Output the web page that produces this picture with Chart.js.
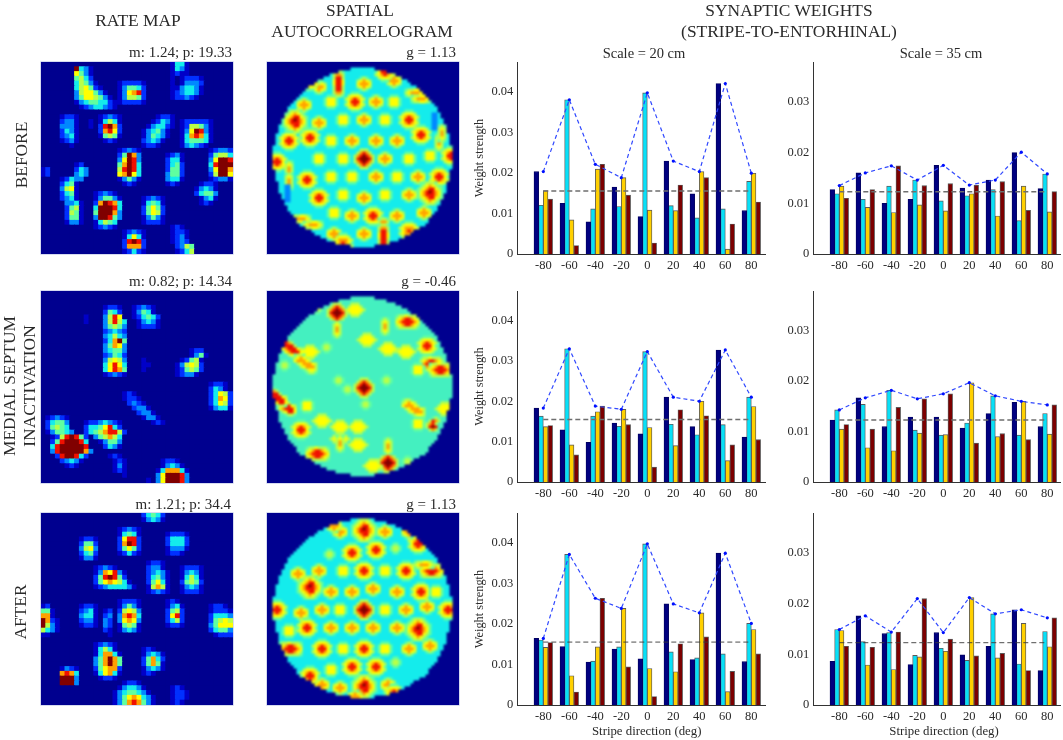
<!DOCTYPE html>
<html><head><meta charset="utf-8">
<script src="https://cdn.jsdelivr.net/npm/chart.js@4"></script>
<style>
html,body{margin:0;padding:0;background:#fff;width:1063px;height:740px;overflow:hidden}
#stage{position:absolute;left:0;top:0;width:1063px;height:740px;font-family:"Liberation Serif",serif;color:#2a2a2a;filter:blur(.3px)}
.t{position:absolute;white-space:nowrap;line-height:1}
.c{transform:translateX(-50%)}
.r{transform:translate(-100%,0)}
.rot{transform:translate(-50%,-50%) rotate(-90deg)}
.panel{position:absolute;width:192px;height:192px;overflow:hidden;background:#00008f;box-shadow:0 0 0 .6px #b9c2e6}
.panel canvas{position:absolute;left:0;top:0}
.bars{position:absolute}
</style></head><body><div id="stage"></div>
<script>
// ---------- categories and colours ----------
const directions=[-80,-60,-40,-20,0,20,40,60,80];
const yTicks20=[0,0.01,0.02,0.03,0.04];
const yTicks35=[0,0.01,0.02,0.03];
const meanLine20=0.0155, meanLine35=0.0123;
const jet={'.':'#00008f','1':'#0000c8','2':'#0030ff','3':'#0088ff','4':'#14ecec','m':'#44f0c0','5':'#60ffa0','6':'#b8ff48','7':'#ffff00','8':'#ffa000','9':'#f01000','A':'#800000'};

// ---------- bar values: scale 20 cm ----------
const s20BeforeNavy=[.0203,.0125,.0079,.0165,.0092,.0229,.0148,.042,.0107];
const s20BeforeCyan=[.012,.038,.0111,.0117,.0397,.0119,.0089,.0111,.0179];
const s20BeforeGold=[.0156,.0084,.0209,.0188,.0108,.0107,.0203,.0012,.0199];
const s20BeforeRed=[.0135,.0021,.0221,.0145,.0027,.017,.0188,.0074,.0128];
const s20BeforeMax=[.0203,.038,.0221,.0188,.0397,.0229,.0203,.042,.0199];
const s20MsiNavy=[.0183,.0129,.0098,.0146,.0119,.021,.0137,.0327,.0111];
const s20MsiCyan=[.0163,.033,.0163,.0138,.0323,.0143,.0117,.0142,.021];
const s20MsiGold=[.0137,.0092,.0174,.018,.0135,.009,.02,.0053,.0187];
const s20MsiRed=[.014,.0067,.0188,.0142,.0037,.0179,.0164,.0092,.0105];
const s20MsiMax=[.0183,.033,.0188,.018,.0323,.021,.02,.0327,.021];
const s20AfterNavy=[.0164,.0144,.0106,.0138,.0114,.0249,.0112,.0374,.0107];
const s20AfterCyan=[.016,.0371,.0108,.0143,.0397,.0131,.0116,.0126,.0201];
const s20AfterGold=[.0142,.0072,.0143,.0238,.009,.0082,.0227,.0033,.0186];
const s20AfterRed=[.0154,.0032,.0263,.0094,.0021,.0151,.0168,.0083,.0126];
const s20AfterMax=[.0164,.0371,.0263,.0238,.0397,.0249,.0227,.0374,.0201];
// ---------- bar values: scale 35 cm ----------
const s35BeforeNavy=[.0127,.016,.01,.0108,.0175,.013,.0146,.02,.0129];
const s35BeforeCyan=[.0119,.0108,.0134,.0146,.0105,.0115,.0127,.0066,.0158];
const s35BeforeGold=[.0134,.0092,.0082,.0097,.0085,.0119,.0075,.0134,.0083];
const s35BeforeRed=[.011,.0127,.0174,.0135,.0139,.0136,.0143,.0086,.0123];
const s35BeforeMax=[.0135,.016,.0174,.0146,.0175,.0136,.0146,.0201,.0158];
const s35MsiNavy=[.0123,.0167,.011,.0129,.0129,.0107,.0136,.0158,.011];
const s35MsiCyan=[.0143,.0154,.0182,.0103,.0093,.0117,.0171,.0093,.0136];
const s35MsiGold=[.0105,.0068,.0062,.0097,.0094,.0197,.009,.016,.0095];
const s35MsiRed=[.0114,.0105,.0148,.0165,.0175,.0077,.0096,.0084,.0153];
const s35MsiMax=[.0143,.0167,.0182,.0165,.0175,.0197,.0171,.016,.0153];
const s35AfterNavy=[.0086,.0176,.0141,.008,.0143,.0099,.0116,.0188,.0068];
const s35AfterCyan=[.0149,.0125,.0143,.0098,.0112,.0088,.018,.0081,.0145];
const s35AfterGold=[.0147,.0079,.007,.0095,.0106,.0212,.0093,.0161,.0115];
const s35AfterRed=[.0116,.0114,.0144,.021,.013,.0097,.0102,.0068,.0172];
const s35AfterMax=[.0149,.0176,.0144,.021,.0143,.0212,.018,.0188,.0172];

// ---------- rate maps: 40 rows of 40 colour levels ('.' = lowest) ----------
const rateBefore=[
"...........................1441",
".......A431................1431",
".......7531................1211",
".......5642................1.12221",
".......46531....122221.....1.13332",
".......467521...135542.....1134431",
".......3677531..137892.....1234431",
".......35776531.136652.....122321",
".......134554421122221",
"........12344321",
"",
"....1221....12321.......1221",
"....2331..1.14641......12431.1222221",
"....3331..1.29A82.....134421.1266531",
"....2431....28972....134531..137A931",
"....2341....15651....135431..1489841",
"....1231.....121.....23431...1455541",
"......1..............1221....134321",
"................12321..............12332",
"................25A83.....1231.....25664",
"................37A93.....2441.....37AA9",
".......12.......58A94.....2452.....49AAA",
"12.....243......69A94.....2552.....37AA8",
"12.....343......78A74.....3552.....26AA7",
"....12433.......13531.....3441.....12331",
"....2451.........121......121....1221",
"....3671........................13431",
"....2451...12321................24553",
"....2341...135531....12321.......1341",
".....3341..28A984....14541.......121",
".....2561..4AAA94....25752",
".....2651..5AAA83....25762",
".....2551..3AA953....13531",
".....1331..14654.....12221",
"...........12321...........121",
".................12321.....1221",
".................14741.....1231",
".................29A92.....1232",
".................28882......2365",
".................12421......1246"];
const rateMsi=[
"","","",
".............1221..12321",
".............2542..13541",
".........1...3697..124542",
".........1...36964..13431",
".............35653..12221",
".............23432",
".............34643",
".............248A5",
".............35873",
".............34553.............122",
".............23542.............1351",
".............36763...1.......12561",
".............47974...11.....136762",
".............47985...1......125652",
".............12321..........12331",
"",
"...................................1221",
"...................................2431",
".................121...............24762",
".................1221..............24872",
"..................2321.............24762",
"...................2331............13441",
"....................2331",
".12321...............1331",
".24553...12234321......121",
".25654...24457942",
".135543..245689962",
"..1269A952.356864",
"..259AAA94..13553",
"..49AAAAA9...2431",
"..39AAAAA83",
"...29AA942....121",
"....23431......121.......1221",
".....121.......131.......13431",
"...............121......1488841",
".................1......37AAA93",
"......................1.37AAA93"];
const rateAfter=[
".....................24542",
".....................13431",
"",
"................12321",
"................14541.....12221",
"........1221....27992.....24442",
"........2552....28A92.....24442",
"........3673....25752.....13331",
"........2452....12421.....1221",
"........1331",
"......................1221",
"...........12321......2331...12221",
"...........1387931....23431..13431",
"...........259A952....24531..14641",
"...........25787641...25741..25652",
"...........123444431..16861..13431",
"......................12321..12221",
"",
"................12221.....121",
"12......1221....13531.....1341.....1221",
"551.....2341.12.26763.....2562.....12221",
"881.....3441.23.38984.....2792.....24443",
"A821....2331.32.37873.....2462.....25676",
"A631....1221.32.15651.....1221.....35777",
"6431.........21.13431..............24553",
"11............1.....................12221",
"",
"...........12321",
"...........14641.....121",
"...........148841....13431",
"...........358A85....25842",
"...........358A85....25851",
"....1321...257882....13431",
"....8984...147841....121",
"....AAA3....1221",
"....AAA3.........1221",
"................134431.....121",
"...............13455431....1221",
"...............135787431...1221",
"...............135898531...121"];

// ---------- autocorrelograms: 64x64 cells; disk half-width per row, and patches read at each peak ----------
const diskHalfWidth=[0,0,4,8,11,13,15,16,18,19,20,21,22,23,24,25,25,26,26,27,27,28,28,28,29,29,29,29,30,30,30,30,30,30,30,30,29,29,29,29,28,28,28,28,27,27,26,26,25,25,24,23,22,22,21,19,17,16,14,12,9,4,0,0];
const Y=".555./57775/57775/57775/.555.";
const O=".565./67876/78887/67876/.565.";
const R="..555../.67776./6788876/5789875/6788876/.67776./..555..";
const RR="..555../.67776./6789876/5799975/6789876/.67776./..555..";
const BR="..56665../.5678765./567899765/5789A9875/578999875/567899765/.5678765./..56665..";
const D="..666../.68986./689A986/69AAA96/689A986/.68986./..666..";
const F=".55./5665/5665/.55.";
const G="..666../.67776./6777776/.67776./..666..";
const VR="5665/6886/6996/7997/7997/6996/6996/6886/5665";
const VO="565/676/686/686/676/565";
const HO="5667765/6788876/5667765";
const HR="56676665/67899876/78999987/67899876/56666665";
const DG="5665..../68986.../789996../.7899976/..789997/...67997/....5665";
const DO="5665..../67876.../788876../.6788876/..678886/...56776/....5665";
const DT="..565/.6986/6896./69A9./.686.";
const AZ="33/33/33/33/33/33";
const corrBefore=[[24,6,VR],[24,7,VR],[32,7,O],[42,6,O],[39,3,RR],[17,8,O],[49,10,HO],[51,12,HO],[12,14,O],[21,13,Y],[29,13,RR],[36,13,O],[42,13,Y],[9,20,BR],[17,20,O],[25,19,Y],[32,19,O],[39,19,Y],[47,19,RR],[7,26,RR],[14,25,RR],[21,26,Y],[28,26,O],[36,26,O],[43,26,O],[51,24,RR],[57,27,VO],[58,24,VO],[3,33,RR],[17,32,Y],[25,32,Y],[39,32,O],[47,32,Y],[54,31,Y],[61,31,RR],[7,36,VO],[7,40,VO],[13,39,RR],[21,38,Y],[28,38,Y],[36,38,O],[43,38,Y],[50,38,O],[57,38,RR],[17,45,RR],[25,44,Y],[32,45,O],[39,44,Y],[47,44,O],[54,44,BR],[22,50,Y],[28,51,O],[35,51,RR],[43,51,O],[52,50,O],[11,52,HO],[15,54,HO],[32,57,O],[39,56,VR],[39,58,VR],[22,57,O],[47,56,R],[25,60,R],[32,32,D],[56,20,AZ],[7,44,AZ],[14,6,R]];
const corrMsi=[[32,32,D],[23,7,D],[23,13,VO],[29,6,G],[39,12,VO],[33,16,G],[40,19,G],[46,20,G],[47,10,HR],[53,18,RR],[55,24,HR],[58,26,HR],[14,20,G],[8,19,DG],[13,24,DO],[6,25,F],[50,26,Y],[20,19,F],[27,33,F],[40,30,F],[6,38,DG],[3,35,DG],[13,38,Y],[11,46,RR],[18,43,G],[24,45,G],[24,49,G],[24,51,VO],[30,45,G],[30,51,G],[17,54,HR],[40,57,D],[40,52,VO],[35,58,G],[49,39,DO],[50,44,Y],[55,44,DT],[59,39,G],[47,57,F],[17,6,F],[33,38,F],[24,30,F]];
const corrAfter=[[32,32,D],[24,32,Y],[39,32,Y],[18,32,O],[11,33,O],[3,32,RR],[46,32,O],[53,31,O],[60,32,RR],[14,25,BR],[21,26,O],[28,26,O],[35,25,O],[43,26,O],[51,26,RR],[56,26,Y],[10,20,O],[17,19,O],[25,19,Y],[32,19,RR],[39,19,Y],[46,19,RR],[55,19,HR],[52,17,HO],[28,13,RR],[36,12,RR],[21,14,F],[43,12,F],[24,6,O],[32,6,BR],[39,6,O],[50,10,RR],[22,4,O],[47,6,O],[7,39,Y],[13,38,RR],[21,38,O],[28,38,O],[35,38,O],[43,38,O],[50,39,BR],[8,45,HR],[18,45,RR],[25,45,Y],[32,45,RR],[39,45,Y],[47,45,O],[54,44,O],[28,51,RR],[36,51,RR],[21,52,Y],[43,50,F],[14,54,RR],[24,58,O],[32,58,BR],[40,57,O],[18,57,O],[29,61,O],[42,60,RR]];

const barFill=['#000080','#08e0f8','#ffd000','#7c0000'];

// ---------- helpers ----------
const stage=document.getElementById('stage');
Chart.defaults.font.family='"Liberation Serif",serif';
Chart.defaults.color='#2a2a2a';
function text(s,x,y,size,cls){const d=document.createElement('div');d.className='t '+(cls||'');d.textContent=s;d.style.left=x+'px';d.style.top=y+'px';d.style.fontSize=size+'px';stage.appendChild(d);}
function cellChart(x,y,grid,n,blur){
  const p=document.createElement('div');p.className='panel';p.style.left=x+'px';p.style.top=y+'px';
  const cv=document.createElement('canvas');cv.width=192;cv.height=192;cv.style.width='192px';cv.style.height='192px';cv.style.filter='blur('+blur+'px)';
  p.appendChild(cv);stage.appendChild(p);
  const pts=[],cols=[];
  for(let r=0;r<n;r++)for(let c=0;c<n;c++){pts.push({x:c+.5,y:r+.5});cols.push(jet[grid[r][c]]);}
  const side=192/n+1;
  new Chart(cv,{type:'scatter',data:{datasets:[{data:pts,pointStyle:'rect',pointRadius:side/Math.SQRT2,pointBorderWidth:0,pointBackgroundColor:cols,clip:false}]},
    options:{responsive:false,animation:false,devicePixelRatio:1,events:[],layout:{padding:0,autoPadding:false},plugins:{legend:{display:false},tooltip:{enabled:false}},
      scales:{x:{type:'linear',min:0,max:n,display:false},y:{type:'linear',min:0,max:n,reverse:true,display:false}}}});
}
function rateGrid(rows){return Array.from({length:40},(_,r)=>((rows[r]||'')+'.'.repeat(40)).slice(0,40).split(''));}
function corrGrid(body,peaks){
  const g=Array.from({length:64},()=>Array(64).fill('.'));
  const w=diskHalfWidth;
  for(let r=0;r<64;r++)for(let c=32-w[r];c<32+w[r];c++)g[r][c]=body;
  peaks.forEach(([pc,pr,st])=>{const rows=st.split('/');const c0=pc-Math.floor(rows[0].length/2),r0=pr-Math.floor(rows.length/2);
    rows.forEach((row,i)=>row.split('').forEach((ch,j)=>{const rr=r0+i,cc=c0+j;if(ch!=='.'&&rr>=0&&rr<64&&cc>=0&&cc<64&&g[rr][cc]!=='.')g[rr][cc]=ch;}));});
  return g;
}
function barChart(left,width,axisW,top,y0,yMax,ticks,mean,series,opts){
  const bottom=33,pad=6;
  const cv=document.createElement('canvas');const h=(y0-top)+pad+bottom;
  cv.width=width;cv.height=Math.round(h);cv.className='bars';cv.style.left=left+'px';cv.style.top=(top-pad)+'px';cv.style.width=width+'px';cv.style.height=Math.round(h)+'px';
  stage.appendChild(cv);
  const xy=a=>directions.map((d,i)=>({x:d,y:a[i]}));
  const ds=series.slice(0,4).map((a,i)=>({type:'bar',data:xy(a),backgroundColor:barFill[i],borderColor:i===0?'#000060':'#5a5a5a',borderWidth:.9,barThickness:4.65,order:2}));
  ds.push({type:'line',data:xy(series[4]),borderColor:'#3048ff',borderWidth:1.2,borderDash:[4,3],pointRadius:1.6,pointBackgroundColor:'#0010ff',pointBorderWidth:0,order:0,tension:0});
  ds.push({type:'line',data:[{x:-80,y:mean},{x:80,y:mean}],borderColor:opts.meanColor,borderWidth:opts.meanWidth,borderDash:[5,3],pointRadius:0,order:1});
  new Chart(cv,{type:'bar',data:{datasets:ds},options:{responsive:false,animation:false,devicePixelRatio:1,events:[],
    layout:{padding:{top:pad,right:3,left:0,bottom:0},autoPadding:false},plugins:{legend:{display:false},tooltip:{enabled:false}},
    scales:{
      x:{type:'linear',offset:false,min:-100,max:-100+(width-axisW-3)/26*20,grid:{display:false,offset:false,drawTicks:false},border:{color:'#333',width:1},
        afterFit:s=>{s.height=bottom;s.paddingLeft=0;s.paddingRight=0;},
        ticks:{stepSize:20,includeBounds:false,autoSkip:false,maxRotation:0,padding:4,font:{size:12.5},callback:v=>v<-80?'':String(v)}},
      y:{type:'linear',min:0,max:yMax,grid:{display:false,drawTicks:false},border:{color:'#333',width:1},afterFit:s=>{s.width=axisW;s.paddingTop=0;s.paddingBottom=0;},
        title:{display:!!opts.yTitle,text:opts.yTitle,font:{size:12.4},padding:{top:0,bottom:0},color:'#2a2a2a'},
        afterBuildTicks:s=>{s.ticks=ticks.map(v=>({value:v}));},
        ticks:{padding:4,font:{size:12.5},callback:v=>v===0?'0':v.toFixed(2)}}
    }}});
}

// ---------- titles ----------
text('RATE MAP',138,12,17.4,'c');
text('SPATIAL',360,2,17.4,'c');
text('AUTOCORRELOGRAM',362,23,17.4,'c');
text('SYNAPTIC WEIGHTS',789,2,17.4,'c');
text('(STRIPE-TO-ENTORHINAL)',789,23,17.4,'c');
text('Scale = 20 cm',644,46,14.5,'c');
text('Scale = 35 cm',941,46,14.5,'c');
text('BEFORE',22,155,17.4,'rot');
text('MEDIAL SEPTUM',10,386,17.4,'rot');
text('INACTIVATION',30,386,17.4,'rot');
text('AFTER',21,612,17.4,'rot');
text('m: 1.24; p: 19.33',232,45,15,'r');
text('g = 1.13',456,45,15,'r');
text('m: 0.82; p: 14.34',232,274,15,'r');
text('g = -0.46',456,274,15,'r');
text('m: 1.21; p: 34.4',231,497,15,'r');
text('g = 1.13',456,497,15,'r');
text('Stripe direction (deg)',646.7,724.5,12.8,'c');
text('Stripe direction (deg)',944,724.5,12.8,'c');

// ---------- heat maps ----------
const rowTops=[61.5,290.5,513];
cellChart(41,rowTops[0],rateGrid(rateBefore),40,.6);
cellChart(41,rowTops[1],rateGrid(rateMsi),40,.6);
cellChart(41,rowTops[2],rateGrid(rateAfter),40,.6);
cellChart(267,rowTops[0],corrGrid('4',corrBefore),64,.8);
cellChart(267,rowTops[1],corrGrid('m',corrMsi),64,.8);
cellChart(267,rowTops[2],corrGrid('4',corrAfter),64,.8);

// ---------- bar panels ----------
const gray={meanColor:'#6e6e6e',meanWidth:1.5};
const dark={meanColor:'#3a3a3a',meanWidth:.9};
barChart(472,296,45.3,61.7,253.3,.0473,yTicks20,meanLine20,[s20BeforeNavy,s20BeforeCyan,s20BeforeGold,s20BeforeRed,s20BeforeMax],{...gray,yTitle:'Weight strength'});
barChart(472,296,45.3,291,482.3,.0473,yTicks20,meanLine20,[s20MsiNavy,s20MsiCyan,s20MsiGold,s20MsiRed,s20MsiMax],{...gray,yTitle:'Weight strength'});
barChart(472,296,45.3,513,704.7,.0473,yTicks20,meanLine20,[s20AfterNavy,s20AfterCyan,s20AfterGold,s20AfterRed,s20AfterMax],{...dark,yTitle:'Weight strength'});
barChart(770,293,43.3,61.7,253.3,.0379,yTicks35,meanLine35,[s35BeforeNavy,s35BeforeCyan,s35BeforeGold,s35BeforeRed,s35BeforeMax],gray);
barChart(770,293,43.3,291,482.3,.0379,yTicks35,meanLine35,[s35MsiNavy,s35MsiCyan,s35MsiGold,s35MsiRed,s35MsiMax],gray);
barChart(770,293,43.3,513,704.7,.0379,yTicks35,meanLine35,[s35AfterNavy,s35AfterCyan,s35AfterGold,s35AfterRed,s35AfterMax],dark);
</script></body></html>
